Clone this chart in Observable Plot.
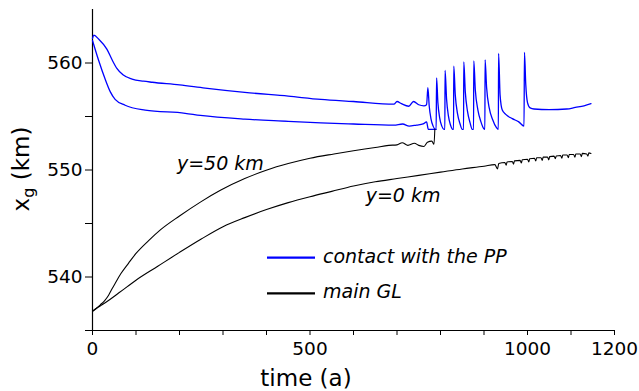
<!DOCTYPE html>
<html>
<head>
<meta charset="utf-8">
<script src="https://cdn.jsdelivr.net/npm/d3@7"></script>
<script src="https://cdn.jsdelivr.net/npm/@observablehq/plot@0.6"></script>
<style>
  html, body { margin: 0; padding: 0; background: #fff; }
  svg { display: block; }
</style>
</head>
<body>
<div id="chart"></div>
<script>
// ---- data (time in years, x_g in km) ----
const contactUpper = [
  [0, 562.3], [3, 562.6], [15, 562.2], [33, 561.3], [45, 560.3], [56, 559.5], [70, 558.9],
  [91, 558.5], [117, 558.3], [137, 558.2], [200, 557.95], [259, 557.65], [350, 557.25],
  [450, 556.9], [525, 556.6], [600, 556.4], [693, 556.15], [700, 556.4], [710, 556.2],
  [727, 555.96], [738, 556.4], [750, 556.1], [762, 556.0], [768, 556.1],
  [771, 557.7], [774, 556.0], [778, 554.8], [783, 554.1], [788, 553.8], [790, 553.8],
  [791, 558.6], [794, 556.3], [798, 554.9], [803, 554.1], [808, 553.8], [810, 553.8],
  [810.5, 559.3], [814, 556.6], [818, 555.1], [823, 554.2], [828, 553.8], [830, 553.8],
  [830.5, 559.7], [834, 557.0], [839, 555.3], [845, 554.3], [850, 553.8], [853, 553.8],
  [853.5, 560.1], [857, 557.3], [862, 555.5], [868, 554.4], [873, 553.8], [876, 553.8],
  [876.5, 560.2], [880, 557.5], [886, 555.6], [893, 554.5], [899, 553.9], [902, 553.8],
  [902.5, 560.3], [906, 557.7], [912, 555.8], [920, 554.7], [928, 554.0], [933, 553.8],
  [933.5, 560.9], [937, 557.0], [942, 555.6], [950, 555.2], [965, 554.8], [980, 554.5],
  [992, 554.1], [993, 561.0], [996, 558.0], [1000, 556.3], [1006, 555.8], [1015, 555.7],
  [1050, 555.65], [1090, 555.7], [1110, 555.85], [1130, 556.0], [1146, 556.2]
];
const contactLower = [
  [0, 562.1], [14, 560.25], [29, 558.5], [41, 557.3], [52, 556.6], [75, 556.05],
  [121, 555.6], [213, 555.3], [248, 555.1], [350, 554.75], [450, 554.55], [525, 554.4],
  [600, 554.3], [693, 554.2], [713, 554.3], [728, 554.1], [745, 554.2], [760, 554.3],
  [768, 554.5], [772, 553.8], [790, 553.8]
];
const glY50 = [
  [0, 536.8], [10, 537.1], [18, 537.4], [28, 537.8], [37, 538.3], [45, 538.9], [52, 539.4],
  [65, 540.3], [83, 541.3], [100, 542.2], [129, 543.4], [156, 544.4],
  [200, 545.7], [248, 547.0], [294, 548.1], [350, 549.2], [401, 550.0], [450, 550.6],
  [500, 551.1], [555, 551.5], [600, 551.8], [650, 552.1], [681, 552.3], [700, 552.35],
  [712, 552.55], [725, 552.3], [740, 552.5], [750, 552.3], [762, 552.2], [770, 552.6],
  [780, 552.7], [785, 552.4], [787, 553.8]
];
const glY0 = [
  [0, 536.8], [10, 537.1], [22, 537.4], [40, 537.9], [60, 538.5], [80, 539.1], [100, 539.7],
  [150, 541.0], [200, 542.3], [250, 543.55], [300, 544.7], [350, 545.55], [400, 546.3],
  [450, 546.95], [500, 547.5], [550, 548.0], [600, 548.5], [650, 548.9], [700, 549.2],
  [750, 549.5], [800, 549.8], [850, 550.1], [900, 550.35], [925, 550.5],
  [931, 550.1], [934, 550.6], [948, 550.7], [951, 550.45], [953, 550.75], [965, 550.8],
  [968, 550.55], [970, 550.85], [983, 550.9], [986, 550.65], [988, 550.95], [1000, 551.0],
  [1003, 550.75], [1005, 551.05], [1016, 551.1], [1019, 550.85], [1021, 551.15],
  [1031, 551.15], [1034, 550.9], [1036, 551.2], [1046, 551.2], [1049, 550.95], [1051, 551.25],
  [1061, 551.3], [1064, 551.05], [1066, 551.3], [1076, 551.35], [1079, 551.1], [1081, 551.4],
  [1091, 551.4], [1094, 551.15], [1096, 551.45], [1106, 551.45], [1109, 551.2], [1111, 551.5],
  [1121, 551.5], [1124, 551.25], [1126, 551.55], [1136, 551.5], [1139, 551.3], [1141, 551.6],
  [1146, 551.55]
];
const xTicks = d3.range(0, 1201, 100);
const xTickLabels = [0, 500, 1000, 1200];
const yTicks = [535, 540, 545, 550, 555, 560];
const yTickLabels = [540, 550, 560];
const annotations = [
  {t: 194, v: 550.0, text: "y=50 km"},
  {t: 628, v: 547.0, text: "y=0 km"}
];
const legendItems = [
  {label: "contact with the PP", color: "#0000ff"},
  {label: "main GL", color: "#000000"}
];

const W = 639, H = 391;
const plot = Plot.plot({
  width: W,
  height: H,
  marginLeft: 92,
  marginRight: 25,
  marginTop: 9,
  marginBottom: 61,
  style: {fontFamily: "DejaVu Sans", fontSize: "18.5px", color: "#000", background: "#fff"},
  x: {domain: [0, 1200]},
  y: {domain: [535, 565]},
  marks: [
    Plot.axisX({ticks: xTicks, tickFormat: d => xTickLabels.includes(d) ? String(d) : "",
      tickSize: 5, tickPadding: 6, label: null, stroke: "#000", fill: "#000"}),
    Plot.axisY({ticks: yTicks, tickFormat: d => yTickLabels.includes(d) ? String(d) : "",
      tickSize: 7, tickPadding: 3, label: null, stroke: "#000", fill: "#000"}),
    Plot.ruleX([0], {stroke: "#000", strokeWidth: 1.2}),
    Plot.ruleY([535], {stroke: "#000", strokeWidth: 1.2}),
    Plot.line(contactUpper, {x: d => d[0], y: d => d[1], stroke: "#0000ff", strokeWidth: 1.3, curve: "monotone-x"}),
    Plot.line(contactLower, {x: d => d[0], y: d => d[1], stroke: "#0000ff", strokeWidth: 1.3, curve: "monotone-x"}),
    Plot.line(glY50, {x: d => d[0], y: d => d[1], stroke: "#000", strokeWidth: 1.1, curve: "monotone-x"}),
    Plot.line(glY0, {x: d => d[0], y: d => d[1], stroke: "#000", strokeWidth: 1.1, curve: "monotone-x"}),
    Plot.text(annotations, {x: "t", y: "v", text: "text", textAnchor: "start", lineAnchor: "bottom",
      fontStyle: "italic", fontSize: 19, fill: "#000"})
  ]
});

const svg = d3.select(plot);
// axis titles
svg.append("text")
  .attr("x", 306).attr("y", 386)
  .attr("text-anchor", "middle")
  .attr("font-family", "DejaVu Sans").attr("font-size", 23).attr("fill", "#000")
  .text("time (a)");
const yt = svg.append("text")
  .attr("transform", "translate(29,169) rotate(-90)")
  .attr("text-anchor", "middle")
  .attr("font-family", "DejaVu Sans").attr("font-size", 23).attr("fill", "#000");
yt.append("tspan").text("x");
yt.append("tspan").attr("font-size", 16).attr("dy", 5).text("g");
yt.append("tspan").attr("dy", -5).text(" (km)");

// legend
const lg = svg.append("g");
legendItems.forEach((it, i) => {
  const cy = 257.7 + i * 35.6;
  lg.append("line").attr("x1", 267).attr("x2", 315).attr("y1", cy).attr("y2", cy)
    .attr("stroke", it.color).attr("stroke-width", 2.2);
  lg.append("text").attr("x", 323).attr("y", cy + 5)
    .attr("text-anchor", "start")
    .attr("font-family", "DejaVu Sans").attr("font-style", "italic").attr("font-size", 19)
    .attr("fill", "#000").text(it.label);
});

document.getElementById("chart").appendChild(plot);
</script>
</body>
</html>
